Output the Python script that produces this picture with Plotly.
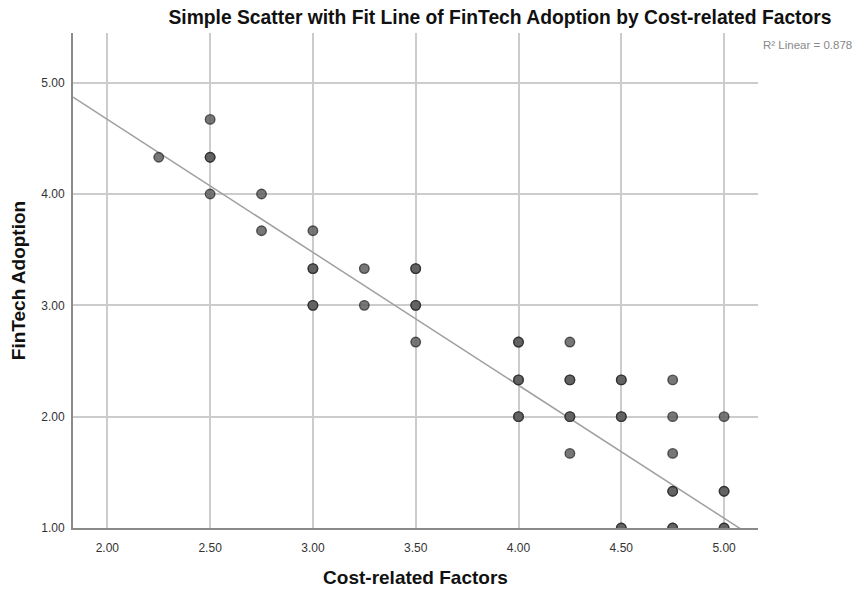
import plotly.graph_objects as go

# Data (duplicates reflect overlapping, darker points)
cost_factors = [2.25, 2.50, 2.50, 2.50, 2.50, 2.75, 2.75,
                3.00, 3.00, 3.00, 3.00, 3.00, 3.25, 3.25,
                3.50, 3.50, 3.50, 3.50, 3.50,
                4.00, 4.00, 4.00, 4.00, 4.00, 4.00,
                4.25, 4.25, 4.25, 4.25, 4.25, 4.25,
                4.50, 4.50, 4.50, 4.50, 4.50, 4.50,
                4.75, 4.75, 4.75, 4.75, 4.75, 4.75, 4.75,
                5.00, 5.00, 5.00, 5.00, 5.00]
fintech_adoption = [4.33, 4.67, 4.33, 4.33, 4.00, 4.00, 3.67,
                    3.67, 3.33, 3.33, 3.00, 3.00, 3.33, 3.00,
                    3.33, 3.33, 3.00, 3.00, 2.67,
                    2.67, 2.67, 2.33, 2.33, 2.00, 2.00,
                    2.67, 2.33, 2.33, 2.00, 2.00, 1.67,
                    2.33, 2.33, 2.00, 2.00, 1.00, 1.00,
                    2.33, 2.00, 1.67, 1.33, 1.33, 1.00, 1.00,
                    2.00, 1.33, 1.33, 1.00, 1.00]

x_ticks = [2.00, 2.50, 3.00, 3.50, 4.00, 4.50, 5.00]
y_ticks = [1.00, 2.00, 3.00, 4.00, 5.00]
x_range = [1.833, 5.165]
y_range = [1.0, 5.446]

# Fit line
fit_slope = -1.194
fit_intercept = 7.058
r2_text = "R\u00b2 Linear = 0.878"

fit_x = x_range
fit_y = [fit_intercept + fit_slope * v for v in fit_x]

FONT = "Arial, Liberation Sans, sans-serif"
W, H = 856, 582  # page adds an 8px body margin
ML, MR, MT, MB = 65, 106, 25, 62
PH = H - MT - MB

fig = go.Figure()
fig.add_trace(go.Scatter(
    x=fit_x, y=fit_y, mode="lines",
    line=dict(color="#a0a0a0", width=1.5),
    hoverinfo="skip", showlegend=False,
))
fig.add_trace(go.Scatter(
    x=cost_factors, y=fintech_adoption, mode="markers",
    marker=dict(size=9.5, color="rgba(95,95,95,0.85)",
                line=dict(color="rgba(40,40,40,0.75)", width=1.4)),
    showlegend=False,
))

axis_font = dict(family=FONT, size=12, color="#333333")
title_font = dict(family=FONT, size=19, color="#111111")
fig.update_xaxes(
    range=x_range, tickvals=x_ticks, ticktext=[f"{v:.2f}" for v in x_ticks],
    showgrid=True, gridcolor="#cccccc", gridwidth=1.5,
    showline=True, linecolor="#8a8a8a", linewidth=2,
    zeroline=False, ticks="", tickfont=axis_font, ticklabelstandoff=8,
    automargin=False,
    title=dict(text="<b>Cost-related Factors</b>", standoff=16, font=title_font),
)
fig.update_yaxes(
    range=y_range, tickvals=y_ticks, ticktext=[f"{v:.2f}" for v in y_ticks],
    showgrid=True, gridcolor="#cccccc", gridwidth=1.5,
    showline=True, linecolor="#8a8a8a", linewidth=2,
    zeroline=False, ticks="", tickfont=axis_font, ticklabelstandoff=4,
    automargin=True,
    title=dict(text="<b>FinTech Adoption</b>", standoff=16, font=title_font),
)

fig.update_layout(
    width=W, height=H,
    margin=dict(l=ML, r=MR, t=MT, b=MB, autoexpand=False),
    plot_bgcolor="white", paper_bgcolor="white",
    title=dict(text="<b>Simple Scatter with Fit Line of FinTech Adoption by Cost-related Factors</b>",
               x=492 / W, xanchor="center", y=1 - 9 / H, yanchor="middle",
               font=dict(family=FONT, size=19.3, color="#111111")),
    annotations=[dict(text=r2_text, xref="paper", yref="paper",
                      x=1.0, xanchor="left", xshift=3, y=1 - 12 / PH, yanchor="middle",
                      showarrow=False,
                      font=dict(family=FONT, size=11.5, color="#888888"))],
)

fig.write_html("out.html")
